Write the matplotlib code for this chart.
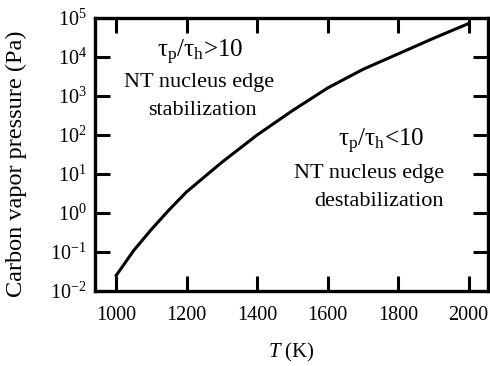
import numpy as np
import matplotlib
matplotlib.use("Agg")
import matplotlib.pyplot as plt

plt.rcParams['font.family'] = ['Liberation Serif', 'DejaVu Serif']
plt.rcParams['mathtext.fontset'] = 'custom'
plt.rcParams['mathtext.rm'] = 'Liberation Serif'
plt.rcParams['mathtext.it'] = 'Liberation Serif:italic'

# data
temperature = [1000, 1050, 1100, 1150, 1200, 1300, 1400, 1500, 1600, 1700, 1800, 1900, 2000]
pressure = [0.025, 0.11, 0.38, 1.2, 3.5, 20, 100, 420, 1600, 4800, 12000, 30000, 72000]
x_ticks = [1000, 1200, 1400, 1600, 1800, 2000]
y_ticks = [1e-2, 1e-1, 1e0, 1e1, 1e2, 1e3, 1e4, 1e5]

fig = plt.figure(figsize=(4.9, 3.66), dpi=100)
ax = fig.add_axes([0.194, 0.205, 0.802, 0.746])

ax.semilogy(temperature, pressure, color='black', linewidth=2.2)

ax.set_xlim(940, 2055)
ax.set_ylim(1e-2, 1e5)
ax.set_xticks(x_ticks)
ax.set_xticklabels(['1000', '1200', '1400', '1600', '1800', '2000'])
ax.set_yticks(y_ticks)
ax.set_yticklabels([r'$10^{%d}$' % e for e in range(-2, 6)])
ax.minorticks_off()

ax.tick_params(direction='in', length=11, width=2.2, labelsize=14.5,
               top=True, right=True)
ax.tick_params(axis='x', pad=11)
ax.tick_params(axis='y', pad=6)
for s in ax.spines.values():
    s.set_linewidth(2.4)

ax.set_xlabel(r'$T$ (K)', fontsize=15, labelpad=11)
ax.set_ylabel('Carbon vapor pressure (Pa)', fontsize=17.5)
ax.yaxis.set_label_coords(-0.172, 0.465)

# annotations
ax.text(1237, 1.3e4, r'τ$_\mathrm{p}$/τ$_\mathrm{h}$>10', fontsize=18,
        ha='center', va='center')
ax.text(1235, 2.2e3, 'NT nucleus edge', fontsize=16, ha='center', va='center')
ax.text(1245, 4.3e2, 'stabilization', fontsize=16, ha='center', va='center')

ax.text(1752, 6.8e1, r'τ$_\mathrm{p}$/τ$_\mathrm{h}$<10', fontsize=18,
        ha='center', va='center')
ax.text(1717, 1.0e1, 'NT nucleus edge', fontsize=16, ha='center', va='center')
ax.text(1746, 2.0e0, 'destabilization', fontsize=16, ha='center', va='center')

fig.savefig('out.png', dpi=100)
